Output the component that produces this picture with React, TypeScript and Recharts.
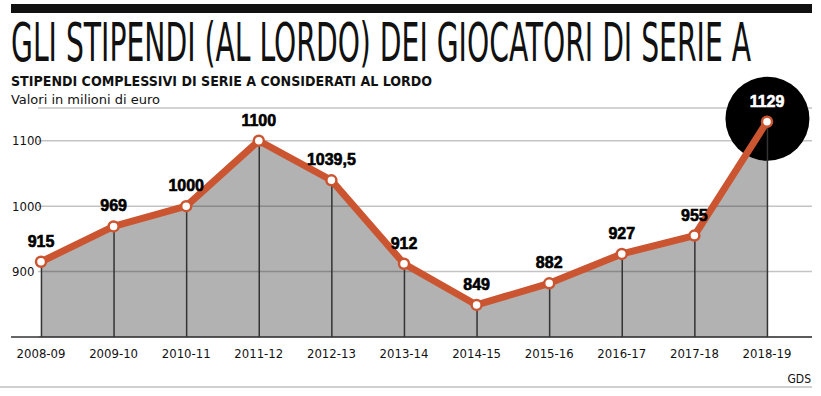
import React from "react";
import {
  ComposedChart,
  Area,
  Bar,
  Line,
  XAxis,
  YAxis,
  CartesianGrid,
} from "recharts";

const seasons = [
  "2008-09",
  "2009-10",
  "2010-11",
  "2011-12",
  "2012-13",
  "2013-14",
  "2014-15",
  "2015-16",
  "2016-17",
  "2017-18",
  "2018-19",
];
const stipendi = [915, 969, 1000, 1100, 1039.5, 912, 849, 882, 927, 955, 1129];
const yTicks = [900, 1000, 1100];

const data = seasons.map((season, i) => ({ idx: i, season, value: stipendi[i] }));
const xTicks = seasons.map((_, i) => i);
const lastIdx = seasons.length - 1;

const ORANGE = "#cb5530";
const NARROW = "'Liberation Sans Narrow', 'DejaVu Sans Condensed', sans-serif";
const HEAVY = "'Liberation Sans', Arial, sans-serif";

const fmt = (v: number) => String(v).replace(".", ",");

const YTick = ({ y, payload }: any) => (
  <text x={12} y={y} dy={4.5} fontFamily={NARROW} fontSize={13} fill="#111">
    {payload.value}
  </text>
);

const XTick = ({ x, y, payload }: any) => (
  <text
    x={x}
    y={y}
    dy={21}
    textAnchor="middle"
    fontFamily={NARROW}
    fontSize={13}
    fill="#111"
  >
    {seasons[payload.value]}
  </text>
);

const ValueLabel = ({ x, y, value, index }: any) => (
  <text
    x={x}
    y={y - 15}
    textAnchor="middle"
    fontFamily={HEAVY}
    fontWeight={900}
    fontSize={16}
    stroke={index === lastIdx ? "#fff" : "#000"}
    strokeWidth={0.6}
    fill={index === lastIdx ? "#fff" : "#000"}
  >
    {fmt(value)}
  </text>
);

// vertical drop line per season; the last one also carries the black badge
const DropLine = ({ x, y, width, height, index }: any) => (
  <g>
    {index === lastIdx && (
      <circle cx={x + width / 2} cy={y - 3} r={42} fill="#000" />
    )}
    <rect x={x} y={y} width={width} height={height} fill="#333" />
  </g>
);

export default function App() {
  return (
    <div
      style={{
        position: "absolute",
        left: 0,
        top: 0,
        width: 821,
        height: 396,
        background: "#fff",
      }}
    >
      <ComposedChart
        width={821}
        height={396}
        data={data}
        margin={{ top: 108, right: 9, bottom: 29, left: 10 }}
      >
        <CartesianGrid vertical={false} stroke="#c4c4c4" strokeWidth={1.5} />
        <XAxis
          type="number"
          dataKey="idx"
          domain={[0, lastIdx]}
          ticks={xTicks}
          interval={0}
          padding={{ left: 3, right: 45 }}
          height={30}
          tickLine={false}
          tickSize={0}
          tickMargin={0}
          axisLine={{ stroke: "#333", strokeWidth: 1.5 }}
          tick={<XTick />}
        />
        <YAxis
          domain={[800, 1150]}
          ticks={yTicks}
          width={28}
          axisLine={false}
          tickLine={false}
          tick={<YTick />}
        />
        <Area
          type="linear"
          dataKey="value"
          stroke="none"
          fill="#000"
          fillOpacity={0.3}
          dot={false}
          activeDot={false}
          isAnimationActive={false}
        />
        <Bar
          dataKey="value"
          barSize={1.5}
          fill="#333"
          shape={DropLine}
          isAnimationActive={false}
        />
        <Line
          type="linear"
          dataKey="value"
          stroke={ORANGE}
          strokeWidth={7}
          strokeLinejoin="round"
          dot={{ r: 5, fill: "#fff", stroke: ORANGE, strokeWidth: 2.5 }}
          activeDot={false}
          label={ValueLabel}
          isAnimationActive={false}
        />
      </ComposedChart>
      <svg
        width={821}
        height={396}
        style={{ position: "absolute", left: 0, top: 0, pointerEvents: "none" }}
      >
        <rect x={11} y={4} width={801} height={9} fill="#111" />
        {/* condensed headline: small font stretched vertically */}
        <g transform="translate(11 61) scale(1 1.83)">
          <text
            x={0}
            y={0}
            fontFamily={NARROW}
            fontSize={29.5}
            fill="#111"
            textLength={740}
            lengthAdjust="spacingAndGlyphs"
          >
            GLI STIPENDI (AL LORDO) DEI GIOCATORI DI SERIE A
          </text>
        </g>
        <text
          x={11}
          y={86}
          fontFamily={NARROW}
          fontWeight={700}
          fontSize={14.5}
          fill="#111"
          textLength={421}
          lengthAdjust="spacingAndGlyphs"
        >
          STIPENDI COMPLESSIVI DI SERIE A CONSIDERATI AL LORDO
        </text>
        <text
          x={11}
          y={104}
          fontFamily={NARROW}
          fontSize={13}
          fill="#111"
          textLength={149}
          lengthAdjust="spacingAndGlyphs"
        >
          Valori in milioni di euro
        </text>
        <line x1={11} y1={337} x2={38} y2={337} stroke="#333" strokeWidth={1.5} />
        <text x={811} y={383} textAnchor="end" fontFamily={NARROW} fontSize={12} fill="#111">
          GDS
        </text>
        <line x1={0} y1={387} x2={812} y2={387} stroke="#d0d0d0" strokeWidth={2} />
      </svg>
    </div>
  );
}
